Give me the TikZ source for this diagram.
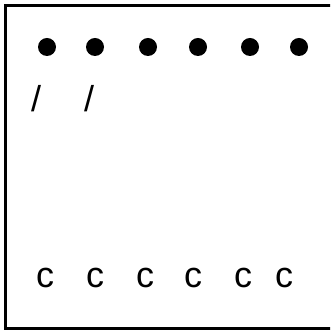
\documentclass[tikz,border=0pt]{standalone}
\usepackage{fontspec}
\setmainfont{Liberation Sans}
\usepackage{tikz}
\usetikzlibrary{positioning}

\tikzset{
  dot/.style={shape=circle,fill=black,inner sep=0pt,minimum size=18pt},
  glyph/.style={inner sep=0pt,font=\fontsize{36}{36}\selectfont}
}

\begin{document}
\begin{tikzpicture}[x=1pt,y=1pt]
\useasboundingbox(0,0)rectangle(330,331);
\clip(0,0)rectangle(330,331);
\draw[line width=2.5pt](5.5,2.5)rectangle(345,325.5);
% top row
\draw(47,284)node[dot](d1){}
(95,284)node[dot](d2){}
(148,284)node[dot](d3){}
(198,284)node[dot](d4){}
(250,284)node[dot](d5){}
(299,284)node[dot](d6){};
% marks under the first two dots
\draw(36,232)node[glyph](s1){/}
(89,232)node[glyph](s2){/};
% bottom row
\draw(45,53)node[glyph](c1){c}
(95,53)node[glyph](c2){c}
(145,53)node[glyph](c3){c}
(193,53)node[glyph](c4){c}
(243,53)node[glyph](c5){c}
(284,53)node[glyph](c6){c};
\end{tikzpicture}
\end{document}
